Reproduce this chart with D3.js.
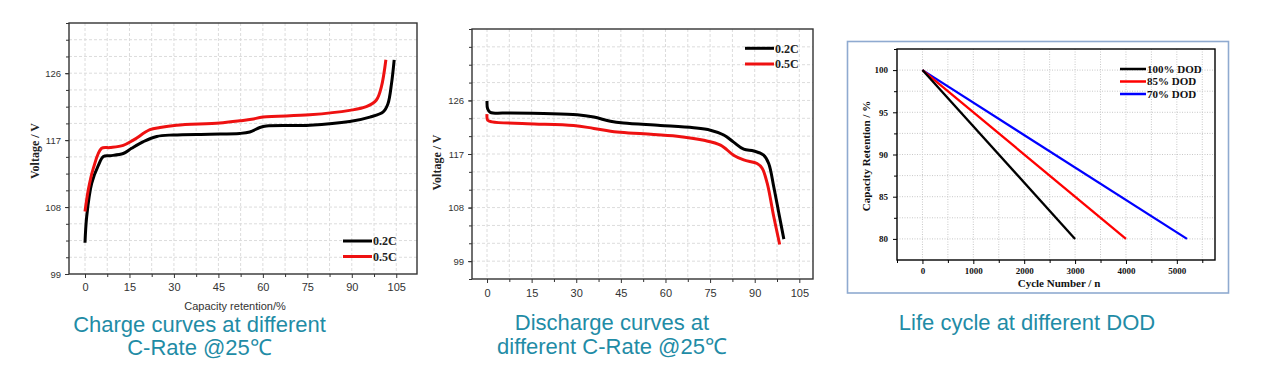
<!DOCTYPE html>
<html><head><meta charset="utf-8">
<script src="https://cdn.jsdelivr.net/npm/d3@7"></script>
<style>
html,body{margin:0;padding:0;background:#fff;}
svg{display:block;}
</style></head>
<body>
<svg id="c" width="1278" height="365"></svg>
<script>
// ---------- DATA ----------
// Charge curves (capacity retention %, voltage V)
const chargeX_02C = [0, 0.56, 2.25, 4.5, 6.2, 8.4, 12.9, 15.7, 19.7, 24.2, 29.8, 42.1, 52.2, 55.6, 59, 61.2, 75.8, 89.3, 96.1, 100.6, 102.2, 103.4, 104.3];
const chargeV_02C = [103.2, 106.7, 111.2, 113.6, 114.8, 114.9, 115.2, 115.9, 116.8, 117.5, 117.7, 117.8, 117.9, 118.1, 118.7, 118.9, 119.0, 119.5, 120.1, 120.8, 121.9, 124.6, 127.8];
const chargeX_05C = [0, 1.1, 2.8, 5.6, 8.4, 12.9, 16.3, 21.9, 25.3, 30.9, 45.5, 52.2, 56.2, 60.1, 75.8, 89.3, 94.9, 98.3, 100, 101.5];
const chargeV_05C = [107.4, 110.3, 113.2, 115.9, 116.0, 116.3, 117.0, 118.4, 118.7, 119.0, 119.3, 119.6, 119.8, 120.1, 120.4, 121.0, 121.5, 122.4, 124.2, 127.8];

// Discharge curves
const dischX_02C = [0, 0.2, 1.1, 7.8, 19, 30.3, 35.9, 41.5, 45.9, 58.3, 69.5, 75.1, 79.6, 82.9, 86.3, 89.7, 93.0, 94.7, 96.4, 98.1, 99.8];
const dischV_02C = [125.9, 124.6, 124.0, 123.9, 123.8, 123.6, 123.2, 122.5, 122.2, 121.8, 121.4, 121.0, 120.2, 119.0, 117.8, 117.5, 116.8, 115.4, 111.5, 107.1, 102.7];
const dischX_05C = [0, 0.2, 1.7, 13.5, 29.1, 35.9, 43.7, 52.7, 63.9, 72.9, 78.5, 82.9, 86.3, 90.8, 92.5, 94.2, 96.4, 98.4];
const dischV_05C = [123.7, 122.7, 122.4, 122.1, 121.8, 121.3, 120.7, 120.4, 120.0, 119.3, 118.5, 116.8, 116.0, 115.4, 114.6, 112.1, 106.5, 101.8];

// Life cycle (cycle number, capacity retention %)
const dod100Cycles = [0, 3000];
const dod100Retention = [100, 80];
const dod85Cycles = [0, 4000];
const dod85Retention = [100, 80];
const dod70Cycles = [0, 5200];
const dod70Retention = [100, 80];

// Tick labels
const voltXTicks = [0, 15, 30, 45, 60, 75, 90, 105];
const voltYTicks = [99, 108, 117, 126];
const lifeXTicks = [0, 1000, 2000, 3000, 4000, 5000];
const lifeYTicks = [80, 85, 90, 95, 100];

// Texts
const rateLabels = ["0.2C", "0.5C"];
const dodLabels = ["100% DOD", "85% DOD", "70% DOD"];
const titles = [["Charge curves at different", "C-Rate @25℃"], ["Discharge curves at", "different C-Rate @25℃"], ["Life cycle at different DOD"]];

// ---------- DRAWING ----------
const svg = d3.select("#c");
const SANS = "'Liberation Sans', Arial, sans-serif";
const SERIF = "'Liberation Serif', 'Times New Roman', serif";
const TEAL = "#1f8ca6";
const RED = "#ee1111";

function range(a, b, s) { const r = []; for (let v = a; v <= b + 1e-9; v += s) r.push(+v.toFixed(4)); return r; }

function voltChart(cfg) {
  const g = svg.append("g");
  const x = d3.scaleLinear().domain(cfg.xDomain).range([cfg.x0, cfg.x1]);
  const y = d3.scaleLinear().domain(cfg.yDomain).range([cfg.y1, cfg.y0]);
  // grid
  const gx = range(0, cfg.xDomain[1], 7.5);
  const gy = range(cfg.yDomain[0] + cfg.yStep, cfg.yDomain[1] - 0.01, cfg.yStep);
  g.selectAll(".vg").data(gx).join("line").attr("x1", d => x(d)).attr("x2", d => x(d))
    .attr("y1", cfg.y0).attr("y2", cfg.y1).attr("stroke", "#dcdcdc").attr("stroke-dasharray", "3,2");
  g.selectAll(".hg").data(gy).join("line").attr("y1", d => y(d)).attr("y2", d => y(d))
    .attr("x1", cfg.x0).attr("x2", cfg.x1).attr("stroke", "#dcdcdc").attr("stroke-dasharray", "3,2");
  // axes
  const ax = g.append("g").attr("transform", `translate(0,${cfg.y1})`)
    .call(d3.axisBottom(x).tickValues(voltXTicks).tickSize(4).tickFormat(d3.format("d")));
  const axm = g.append("g").attr("transform", `translate(0,${cfg.y1})`)
    .call(d3.axisBottom(x).tickValues(range(7.5, cfg.xDomain[1], 15)).tickSize(3).tickFormat(""));
  const ay = g.append("g").attr("transform", `translate(${cfg.x0},0)`)
    .call(d3.axisLeft(y).tickValues(voltYTicks).tickSize(4).tickFormat(d3.format("d")));
  const aym = g.append("g").attr("transform", `translate(${cfg.x0},0)`)
    .call(d3.axisLeft(y).tickValues(range(cfg.yDomain[0], cfg.yDomain[1], cfg.yStep)).tickSize(3).tickFormat(""));
  [ax, axm, ay, aym].forEach(a => { a.select(".domain").remove(); a.selectAll("line").attr("stroke", "#333"); });
  ax.selectAll("text").attr("font-family", SANS).attr("font-size", 11).attr("fill", "#333").attr("dy", cfg.xdy);
  ay.selectAll("text").attr("font-family", SANS).attr("font-size", 9.5).attr("fill", "#333").attr("dx", "-1px");
  // frame
  g.append("rect").attr("x", cfg.x0).attr("y", cfg.y0).attr("width", cfg.x1 - cfg.x0).attr("height", cfg.y1 - cfg.y0)
    .attr("fill", "none").attr("stroke", "#333").attr("stroke-width", 1.4);
  // curves
  const line = d3.line().x(d => x(d[0])).y(d => y(d[1])).curve(d3.curveCatmullRom.alpha(0.5));
  cfg.series.forEach(s => {
    g.append("path").datum(d3.zip(s.xs, s.ys)).attr("d", line).attr("fill", "none")
      .attr("stroke", s.color).attr("stroke-width", 3).attr("stroke-linejoin", "round").attr("stroke-linecap", "butt");
  });
  // legend
  cfg.series.forEach((s, i) => {
    const ly = cfg.legY + i * cfg.legDy;
    g.append("line").attr("x1", cfg.legX).attr("x2", cfg.legX + 29).attr("y1", ly).attr("y2", ly)
      .attr("stroke", s.color).attr("stroke-width", 3);
    g.append("text").attr("x", cfg.legX + 30).attr("y", ly + 4.2).text(rateLabels[i])
      .attr("font-family", SERIF).attr("font-weight", "bold").attr("font-size", 12).attr("fill", "#222");
  });
  // y label
  g.append("text").attr("transform", `translate(${cfg.ylx},${cfg.yly}) rotate(-90)`).attr("text-anchor", "middle")
    .attr("dy", "0.35em").text("Voltage / V").attr("font-family", SERIF).attr("font-weight", "bold")
    .attr("font-size", 12).attr("fill", "#222");
  if (cfg.xlabel) {
    g.append("text").attr("x", cfg.xlx).attr("y", cfg.xly).attr("text-anchor", "middle").text(cfg.xlabel)
      .attr("font-family", SANS).attr("font-size", 11).attr("fill", "#333");
  }
}

voltChart({
  x0: 69, x1: 417, y0: 23, y1: 274, xDomain: [-5.4, 112], yDomain: [99, 132.75], yStep: 2.25, xdy: "0.9em",
  series: [{ xs: chargeX_02C, ys: chargeV_02C, color: "#000" }, { xs: chargeX_05C, ys: chargeV_05C, color: RED }],
  legX: 343, legY: 241, legDy: 15.5, ylx: 35, yly: 151, xlabel: "Capacity retention/%", xlx: 235, xly: 310
});
voltChart({
  x0: 472, x1: 813, y0: 29, y1: 279, xDomain: [-5.05, 109.6], yDomain: [96, 138], yStep: 3, xdy: "1.0em",
  series: [{ xs: dischX_02C, ys: dischV_02C, color: "#000" }, { xs: dischX_05C, ys: dischV_05C, color: RED }],
  legX: 745, legY: 48.3, legDy: 15.7, ylx: 437, yly: 162.5
});

// ---------- Life cycle chart ----------
(function () {
  const g = svg.append("g");
  g.append("rect").attr("x", 847.5).attr("y", 41.5).attr("width", 381).attr("height", 251.5)
    .attr("fill", "none").attr("stroke", "#8faad0").attr("stroke-width", 1.6);
  const x0 = 897, x1 = 1215, y0 = 49, y1 = 260;
  const x = d3.scaleLinear().domain([-500, 5750]).range([x0, x1]);
  const y = d3.scaleLinear().domain([77.5, 102.5]).range([y1, y0]);
  g.selectAll(".vg").data(range(0, 5500, 500)).join("line").attr("x1", d => x(d)).attr("x2", d => x(d))
    .attr("y1", y0).attr("y2", y1).attr("stroke", "#c8c8c8").attr("stroke-dasharray", "1,1.5");
  g.selectAll(".hg").data(range(80, 100, 2.5)).join("line").attr("y1", d => y(d)).attr("y2", d => y(d))
    .attr("x1", x0).attr("x2", x1).attr("stroke", "#c8c8c8").attr("stroke-dasharray", "1,1.5");
  const ax = g.append("g").attr("transform", `translate(0,${y1})`)
    .call(d3.axisBottom(x).tickValues(lifeXTicks).tickSize(4).tickFormat(d3.format("d")));
  const axm = g.append("g").attr("transform", `translate(0,${y1})`)
    .call(d3.axisBottom(x).tickValues(range(-500, 5500, 1000)).tickSize(3).tickFormat(""));
  const ay = g.append("g").attr("transform", `translate(${x0},0)`)
    .call(d3.axisLeft(y).tickValues(lifeYTicks).tickSize(4).tickFormat(d3.format("d")));
  const aym = g.append("g").attr("transform", `translate(${x0},0)`)
    .call(d3.axisLeft(y).tickValues(range(82.5, 102.5, 5)).tickSize(3).tickFormat(""));
  [ax, axm, ay, aym].forEach(a => { a.select(".domain").remove(); a.selectAll("line").attr("stroke", "#000"); });
  ax.selectAll("text").attr("font-family", SERIF).attr("font-weight", "bold").attr("font-size", 9).attr("fill", "#111").attr("dy", "0.75em");
  ay.selectAll("text").attr("font-family", SERIF).attr("font-weight", "bold").attr("font-size", 9).attr("fill", "#111").attr("dx", "-2px");
  g.append("rect").attr("x", x0).attr("y", y0).attr("width", x1 - x0).attr("height", y1 - y0)
    .attr("fill", "none").attr("stroke", "#000").attr("stroke-width", 1.4);
  const series = [
    { xs: dod100Cycles, ys: dod100Retention, color: "#000" },
    { xs: dod85Cycles, ys: dod85Retention, color: "#ff0000" },
    { xs: dod70Cycles, ys: dod70Retention, color: "#0000ff" }
  ];
  const line = d3.line().x(d => x(d[0])).y(d => y(d[1]));
  series.slice().reverse().forEach(s => {
    g.append("path").datum(d3.zip(s.xs, s.ys)).attr("d", line).attr("fill", "none")
      .attr("stroke", s.color).attr("stroke-width", 2.3);
  });
  series.forEach((s, i) => {
    const ly = 69 + i * 12.5;
    g.append("line").attr("x1", 1120).attr("x2", 1146).attr("y1", ly).attr("y2", ly).attr("stroke", s.color).attr("stroke-width", 2.5);
    g.append("text").attr("x", 1147).attr("y", ly + 3.8).text(dodLabels[i]).attr("font-family", SERIF)
      .attr("font-weight", "bold").attr("font-size", 11).attr("fill", "#111");
  });
  g.append("text").attr("x", 1059).attr("y", 287).attr("text-anchor", "middle").text("Cycle Number / n")
    .attr("font-family", SERIF).attr("font-weight", "bold").attr("font-size", 11).attr("fill", "#111");
  g.append("text").attr("transform", "translate(866,156) rotate(-90)").attr("text-anchor", "middle").attr("dy", "0.35em")
    .text("Capacity Retention / %").attr("font-family", SERIF).attr("font-weight", "bold").attr("font-size", 11).attr("fill", "#111");
})();

// ---------- Titles ----------
const titlePos = [{ x: 199.5, ys: [331.5, 355] }, { x: 612, ys: [330, 354] }, { x: 1027, ys: [330] }];
titles.forEach((lines, i) => {
  lines.forEach((t, j) => {
    svg.append("text").attr("x", titlePos[i].x).attr("y", titlePos[i].ys[j]).attr("text-anchor", "middle").text(t)
      .attr("font-family", SANS).attr("font-size", 22).attr("fill", TEAL);
  });
});
</script>
</body></html>
